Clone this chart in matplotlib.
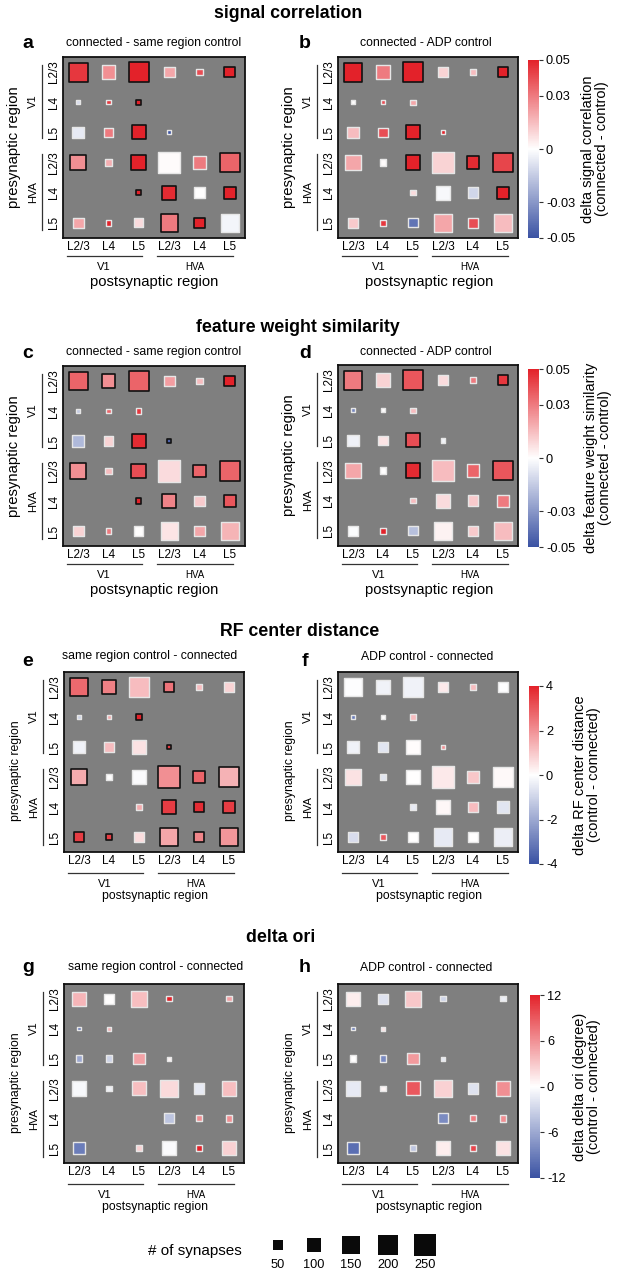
import matplotlib
matplotlib.use('Agg')
import matplotlib.pyplot as plt
from matplotlib.colors import LinearSegmentedColormap, Normalize
from matplotlib.cm import ScalarMappable

plt.rcParams['font.family'] = ['Liberation Sans', 'DejaVu Sans']

W, H = 619, 1279
N = None

# ---------------- data ----------------
layer_labels = ['L2/3', 'L4', 'L5', 'L2/3', 'L4', 'L5']
area_labels = ['V1', 'HVA']

# number of synapses (rows: presynaptic, cols: postsynaptic)
n_syn = [
    [185, 100, 198, 60, 22, 60],
    [9, 9, 13, N, N, N],
    [70, 42, 100, 9, N, N],
    [126, 22, 115, 240, 78, 198],
    [N, N, 13, 100, 60, 70],
    [60, 17, 42, 155, 60, 172],
]
n_syn_ori = [
    [100, 49, 126, 13, N, 13],
    [5, 9, N, N, N, N],
    [22, 22, 70, 9, N, N],
    [115, 17, 100, 155, 60, 115],
    [N, N, N, 52, 17, 22],
    [70, N, 22, 100, 17, 110],
]

sigcorr_same = [
    [0.045, 0.025, 0.05, 0.02, 0.04, 0.05],
    [-0.01, 0.045, 0.05, N, N, N],
    [-0.006, 0.03, 0.05, -0.05, N, N],
    [0.025, 0.018, 0.05, 0.001, 0.03, 0.035],
    [N, N, 0.05, 0.048, 0.0, 0.05],
    [0.02, 0.05, 0.008, 0.03, 0.05, -0.003],
]
sigcorr_adp = [
    [0.05, 0.03, 0.05, 0.01, 0.015, 0.05],
    [0.0, 0.04, 0.02, N, N, N],
    [0.015, 0.04, 0.05, 0.05, N, N],
    [0.02, 0.001, 0.05, 0.01, 0.048, 0.042],
    [N, N, 0.008, -0.002, -0.012, 0.05],
    [0.012, 0.045, -0.04, 0.02, 0.04, 0.015],
]
fw_same = [
    [0.035, 0.025, 0.035, 0.022, 0.015, 0.05],
    [-0.015, 0.035, 0.045, N, N, N],
    [-0.02, 0.01, 0.048, -0.045, N, N],
    [0.025, 0.015, 0.04, 0.008, 0.035, 0.035],
    [N, N, 0.05, 0.028, 0.012, 0.038],
    [0.01, 0.03, 0.0, 0.006, 0.02, 0.017],
]
fw_adp = [
    [0.03, 0.01, 0.038, 0.008, 0.03, 0.045],
    [-0.035, 0.0, 0.015, N, N, N],
    [-0.004, 0.006, 0.04, -0.003, N, N],
    [0.02, 0.0, 0.048, 0.015, 0.035, 0.038],
    [N, N, 0.015, 0.008, 0.012, 0.03],
    [-0.001, 0.05, -0.018, 0.003, 0.012, 0.015],
]
rf_same = [
    [2.7, 2.3, 1.2, 2.5, 1.2, 0.8],
    [-1.0, 1.5, 4.0, N, N, N],
    [-0.3, 1.2, 0.5, 3.5, N, N],
    [1.5, 0.0, -0.1, 2.0, 2.8, 1.4],
    [N, N, 1.5, 3.5, 3.8, 3.5],
    [3.5, 3.5, 0.6, 1.6, 2.2, 1.9],
]
rf_adp = [
    [-0.05, -0.3, -0.3, 0.4, 1.2, -0.05],
    [-3.0, 0.0, 1.2, N, N, N],
    [-0.3, -0.6, 0.05, 2.0, N, N],
    [0.5, -0.6, 0.0, 0.4, 1.0, 0.1],
    [N, N, -0.5, 0.15, 1.2, -0.6],
    [-0.8, 3.0, 0.0, -0.5, 0.0, -0.4],
]
ori_same = [
    [4.0, 0.0, 3.5, 12.0, N, 5.0],
    [-9.0, 4.0, N, N, N, N],
    [-6.0, -3.0, 5.0, 0.5, N, N],
    [-0.5, -1.0, 3.5, 2.0, -1.5, 3.5],
    [N, N, N, -4.0, 6.0, 6.0],
    [-9.0, N, 2.5, -0.3, 12.0, 2.5],
]
ori_adp = [
    [1.0, -2.0, 3.0, -3.0, N, -1.2],
    [-9.0, 1.5, N, N, N, N],
    [0.0, -8.0, 5.5, -1.5, N, N],
    [-1.5, 0.5, 9.0, 2.5, -2.0, 6.0],
    [N, N, N, -8.0, 7.0, 6.0],
    [-10.0, N, -4.0, 1.0, 10.0, 1.5],
]

# significant cells (row, col) -> black outline
sig_sigcorr_same = [(0, 0), (0, 2), (0, 5), (1, 2), (2, 2), (3, 0), (3, 2), (3, 5),
                    (4, 2), (4, 3), (4, 5), (5, 3), (5, 4)]
sig_sigcorr_adp = [(0, 0), (0, 2), (0, 5), (2, 2), (3, 2), (3, 4), (3, 5), (4, 5)]
sig_fw_same = [(0, 0), (0, 1), (0, 2), (0, 5), (2, 2), (2, 3), (3, 0), (3, 2), (3, 4),
               (3, 5), (4, 2), (4, 3), (4, 5)]
sig_fw_adp = [(0, 0), (0, 2), (0, 5), (2, 2), (3, 2), (3, 5)]
sig_rf_same = [(0, 0), (0, 1), (0, 3), (1, 2), (2, 3), (3, 0), (3, 3), (3, 4), (3, 5),
               (4, 3), (4, 4), (4, 5), (5, 0), (5, 1), (5, 3), (5, 4), (5, 5)]
sig_rf_adp = []
sig_ori_same = []
sig_ori_adp = []

legend_sizes = [50, 100, 150, 200, 250]

# ---------------- style ----------------
cmap = LinearSegmentedColormap.from_list('bwr2', ['#3a52a3', '#ffffff', '#e3222a'])
BG = '#7f7f7f'
NS_EDGE = '#e6e6e6'

fig = plt.figure(figsize=(W / 100, H / 100), dpi=100)
ov = fig.add_axes([0, 0, 1, 1])
ov.set_xlim(0, W)
ov.set_ylim(H, 0)
ov.axis('off')


def draw_panel(box, counts, values, sig, vmax, letter, letter_xy, subtitle, sub_xy, big):
    L, T, R, B = box
    ax = fig.add_axes([L / W, 1 - B / H, (R - L) / W, (B - T) / H])
    ax.set_facecolor(BG)
    xs, ys, ss, cs, ecs, lws = [], [], [], [], [], []
    for i in range(6):
        for j in range(6):
            if counts[i][j] is None or values[i][j] is None:
                continue
            xs.append(j)
            ys.append(i)
            ss.append(counts[i][j])
            cs.append(values[i][j])
            if (i, j) in sig:
                ecs.append('#111111')
                lws.append(1.2)
            else:
                ecs.append(NS_EDGE)
                lws.append(1.0)
    ax.scatter(xs, ys, s=ss, c=cs, cmap=cmap, vmin=-vmax, vmax=vmax, marker='s',
               edgecolors=ecs, linewidths=lws, zorder=3)
    ax.set_xlim(-0.5, 5.5)
    ax.set_ylim(5.5, -0.5)
    ax.set_xticks(range(6))
    ax.set_xticklabels(layer_labels, fontsize=8.5)
    ax.set_yticks(range(6))
    ax.set_yticklabels(layer_labels, fontsize=8.5, rotation=90, va='center')
    ax.tick_params(length=0, pad=2)
    for sp in ax.spines.values():
        sp.set_linewidth(1.3)
        sp.set_color('#111111')
    # group lines and labels
    lc = '#333333'
    off = 0 if big else 3
    ov.plot([L + 4, L + 79], [B + 18 + off, B + 18 + off], color=lc, lw=0.9)
    ov.plot([L + 94, L + 170], [B + 18 + off, B + 18 + off], color=lc, lw=0.9)
    ov.text(L + 41, B + 29 + off, area_labels[0], fontsize=8, ha='center', va='center')
    ov.text(L + 132, B + 29 + off, area_labels[1], fontsize=7, ha='center', va='center')
    ov.plot([L - 21, L - 21], [T + 8, T + 81], color=lc, lw=0.9)
    ov.plot([L - 21, L - 21], [T + 97, T + 173], color=lc, lw=0.9)
    ov.text(L - 30, T + 44, area_labels[0], fontsize=8, rotation=90, ha='center', va='center')
    ov.text(L - 30, T + 135, area_labels[1], fontsize=8, rotation=90, ha='center', va='center')
    if big:
        ov.text(L + 91, B + 44, 'postsynaptic region', fontsize=10.7, ha='center', va='center')
        ov.text(L - 49, (T + B) / 2, 'presynaptic region', fontsize=10.7, rotation=90,
                ha='center', va='center')
    else:
        ov.text(L + 91, B + 44, 'postsynaptic region', fontsize=8.8, ha='center', va='center')
        ov.text(L - 48, (T + B) / 2 + 9, 'presynaptic region', fontsize=8.8, rotation=90,
                ha='center', va='center')
    ov.text(letter_xy[0], letter_xy[1], letter, fontsize=14, fontweight='bold',
            ha='center', va='center')
    ov.text(sub_xy[0], sub_xy[1], subtitle, fontsize=8.8, ha='center', va='center')
    return ax


def draw_cbar(box, vmax, ticks, ticklabels, label, label_x):
    L, T, R, B = box
    cax = fig.add_axes([L / W, 1 - B / H, (R - L) / W, (B - T) / H])
    cb = fig.colorbar(ScalarMappable(norm=Normalize(-vmax, vmax), cmap=cmap), cax=cax)
    cb.set_ticks(ticks)
    cb.set_ticklabels(ticklabels)
    cb.outline.set_visible(False)
    cax.tick_params(length=3, width=0.8, labelsize=9.2, pad=2, color='#333333')
    ov.text(label_x, (T + B) / 2, label, fontsize=10.5, rotation=90, ha='center',
            va='center', linespacing=1.05)


# section titles
ov.text(288, 14, 'signal correlation', fontsize=12.8, fontweight='bold', ha='center', va='center')
ov.text(298, 327, 'feature weight similarity', fontsize=12.8, fontweight='bold', ha='center', va='center')
ov.text(300, 632, 'RF center distance', fontsize=12.8, fontweight='bold', ha='center', va='center')
ov.text(281, 938, 'delta ori', fontsize=12.8, fontweight='bold', ha='center', va='center')

sc_ticks = [-0.05, -0.03, 0, 0.03, 0.05]
sc_labels = ['-0.05', '-0.03', '0', '0.03', '0.05']

draw_panel((63, 57, 245, 238), n_syn, sigcorr_same, sig_sigcorr_same, 0.05, 'a', (28, 43),
           'connected - same region control', (154, 43), True)
draw_panel((338, 57, 518, 238), n_syn, sigcorr_adp, sig_sigcorr_adp, 0.05, 'b', (305, 43),
           'connected - ADP control', (426, 43), True)
draw_cbar((528, 60, 539, 238), 0.05, sc_ticks, sc_labels,
          'delta signal correlation\n(connected - control)', 595)

draw_panel((63, 366, 245, 546), n_syn, fw_same, sig_fw_same, 0.05, 'c', (28, 353),
           'connected - same region control', (154, 352), True)
draw_panel((338, 365, 518, 546), n_syn, fw_adp, sig_fw_adp, 0.05, 'd', (305, 353),
           'connected - ADP control', (426, 352), True)
draw_cbar((528, 369, 539, 547), 0.05, sc_ticks, sc_labels,
          'delta feature weight similarity\n(connected - control)', 598)

draw_panel((64, 672, 244, 852), n_syn, rf_same, sig_rf_same, 4, 'e', (28, 662),
           'same region control - connected', (150, 656), False)
draw_panel((338, 672, 518, 852), n_syn, rf_adp, sig_rf_adp, 4, 'f', (305, 662),
           'ADP control - connected', (427, 657), False)
draw_cbar((529, 686, 539, 864), 4, [-4, -2, 0, 2, 4], ['-4', '-2', '0', '2', '4'],
          'delta RF center distance\n(control - connected)', 587)

draw_panel((64, 984, 244, 1163), n_syn_ori, ori_same, sig_ori_same, 12, 'g', (28, 967),
           'same region control - connected', (156, 967), False)
draw_panel((338, 984, 518, 1163), n_syn_ori, ori_adp, sig_ori_adp, 12, 'h', (305, 967),
           'ADP control - connected', (426, 968), False)
draw_cbar((530, 995, 540, 1178), 12, [-12, -6, 0, 6, 12], ['-12', '-6', '0', '6', '12'],
          'delta delta ori (degree)\n(control - connected)', 587)

# size legend
leg_x = [278, 314, 351, 388, 425]
ov.scatter(leg_x, [1245] * len(legend_sizes), s=legend_sizes, marker='s', color='#0a0a0a',
           linewidths=0)
for x, v in zip(leg_x, legend_sizes):
    ov.text(x, 1265, str(v), fontsize=9.2, ha='center', va='center')
ov.text(195, 1251, '# of synapses', fontsize=11, ha='center', va='center')

fig.savefig('out.png', dpi=100)
